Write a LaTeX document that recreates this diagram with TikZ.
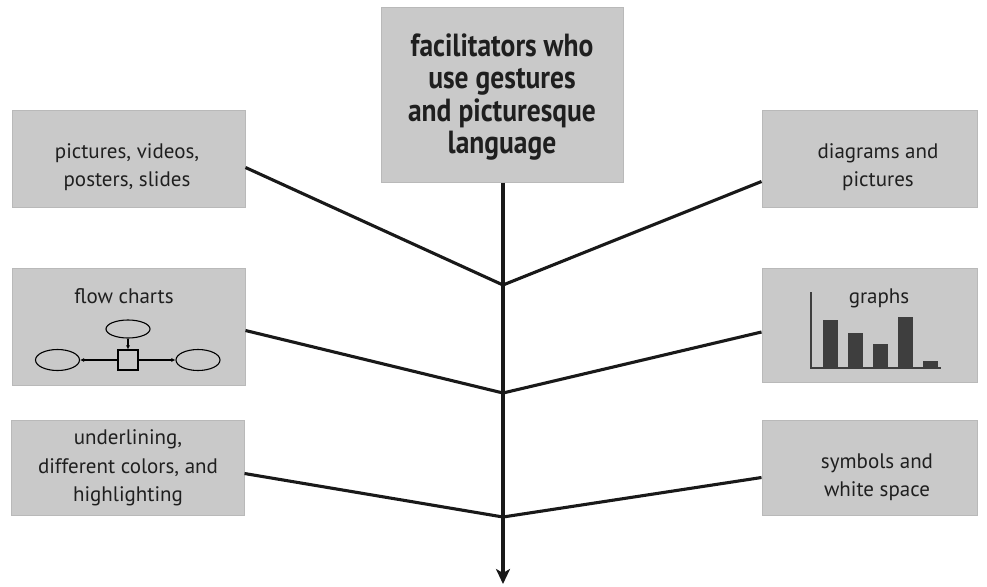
\documentclass[tikz,border=0pt]{standalone}
\usepackage{fontspec}
\setmainfont{PT Sans}
\newfontfamily\headfont[FakeStretch=0.86]{PT Sans}
\usetikzlibrary{arrows.meta,shapes.geometric}
\definecolor{boxgray}{HTML}{C9C9C9}
\definecolor{bargray}{HTML}{3E3E3E}

\begin{document}
\begin{tikzpicture}[x=1pt, y=-1pt,
    box/.style={fill=boxgray, draw=boxgray!92!black, line width=1pt, inner sep=0pt},
    txt/.style={align=center, inner sep=0pt, text=black!88, font=\fontsize{21}{28.5}\selectfont},
    link/.style={line width=3.1pt, black!90},
    blob/.style={ellipse, draw, line width=1.1pt, minimum width=44pt, minimum height=18pt, inner sep=0pt},
    tiny/.style={line width=1.1pt, -{Latex[length=4pt,width=4pt]}}]
  \useasboundingbox (0,0) rectangle (987,586);

  \node[box, minimum width=242pt, minimum height=174pt] (head) at (502,95) {};
  \node[txt, font=\headfont\bfseries\fontsize{32}{32.3}\selectfont] (headtxt) at (502,97) {facilitators who\\use gestures\\and picturesque\\language};

  \node[box, minimum width=233pt, minimum height=97pt] (lb1) at (128.5,158.5) {};
  \node[box, minimum width=233pt, minimum height=117pt] (lb2) at (128.5,326.5) {};
  \node[box, minimum width=233pt, minimum height=95pt] (lb3) at (127.5,467.5) {};
  \node[box, minimum width=215pt, minimum height=97pt] (rb1) at (869.5,158.5) {};
  \node[box, minimum width=215pt, minimum height=114pt] (rb2) at (869.5,325) {};
  \node[box, minimum width=215pt, minimum height=95pt] (rb3) at (869.5,467.5) {};

  \node[txt] (lb1txt) at (127,167) {pictures, videos,\\posters, slides};
  \node[txt, anchor=base] (lb2txt) at (124,303) {flow charts};
  \node[txt] (lb3txt) at (128,468) {underlining,\\different colors, and\\highlighting};
  \node[txt] (rb1txt) at (878,167) {diagrams and\\pictures};
  \node[txt, anchor=base] (rb2txt) at (879,303) {graphs};
  \node[txt] (rb3txt) at (877,477) {symbols and\\white space};

  \node[blob] (fctop) at (128,329) {};
  \node[draw, line width=1.1pt, minimum size=20pt, inner sep=0pt] (fcbox) at (128,360) {};
  \node[blob, minimum height=21pt] (fcleft) at (57.5,360) {};
  \node[blob, minimum height=21pt] (fcright) at (198,360) {};
  \draw[tiny] (fctop) -- (fcbox);
  \draw[tiny] (fcbox) -- (fcleft);
  \draw[tiny] (fcbox) -- (fcright);

  \draw[bargray, line width=1.6pt] (811,292) -- (811,368) -- (941,368);
  \fill[bargray] (823,368) rectangle (838,320);
  \fill[bargray] (848,368) rectangle (863,333);
  \fill[bargray] (873,368) rectangle (888,344);
  \fill[bargray] (898,368) rectangle (913,317);
  \fill[bargray] (923,368) rectangle (938,361);

  \coordinate (j1) at (503,285);
  \coordinate (j2) at (503,393);
  \coordinate (j3) at (503,517);
  \coordinate (tip) at (503,584);

  \draw[link, -{Stealth[length=15pt, width=14pt, inset=4pt]}] (head.south -| j1) -- (tip);
  \draw[link] ([yshift=-9pt]lb1.east) -- (j1) -- ([yshift=-23pt]rb1.west);
  \draw[link] ([yshift=-4pt]lb2.east) -- (j2) -- ([yshift=-7pt]rb2.west);
  \draw[link] ([yshift=-6pt]lb3.east) -- (j3) -- ([yshift=-10pt]rb3.west);
\end{tikzpicture}
\end{document}
